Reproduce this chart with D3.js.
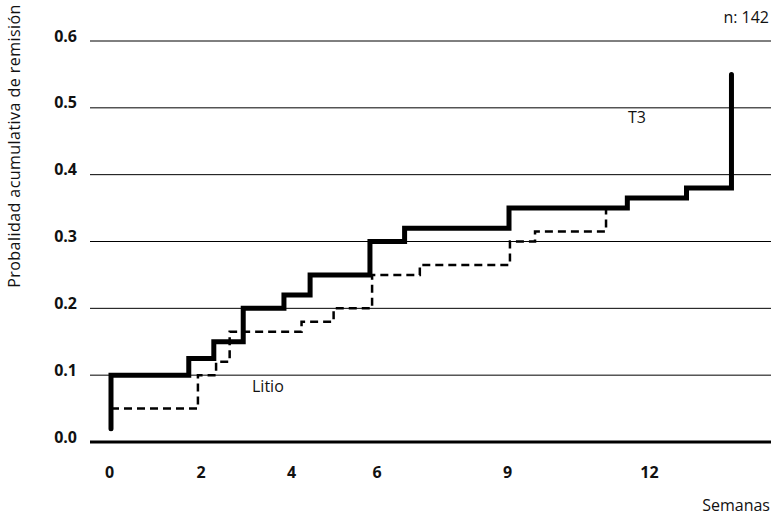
<!DOCTYPE html>
<html>
<head>
<meta charset="utf-8">
<script src="https://cdn.jsdelivr.net/npm/d3@7"></script>
<style>
  body { margin: 0; background: #fff; }
  svg text { font-family: "Open Sans", "Noto Sans", sans-serif; fill: #111; }
  .tick-label { font-weight: bold; font-size: 16px; }
  .note { font-size: 16px; }
</style>
</head>
<body>
<div id="chart"></div>
<script>
// weeks where each step starts, and the cumulative probability held from there
var t3Weeks   = [0, 0, 1.7, 2.25, 2.9, 3.8, 4.4, 5.8, 6.6, 9, 11.5, 12.75, 13.7, 13.7];
var t3Values  = [0.02, 0.1, 0.125, 0.15, 0.2, 0.22, 0.25, 0.3, 0.32, 0.35, 0.365, 0.38, 0.38, 0.55];

var litioWeeks  = [0, 1.9, 2.3, 2.6, 4.2, 4.95, 5.85, 6.95, 9.02, 9.55, 11.05, 11.05];
var litioValues = [0.05, 0.1, 0.12, 0.165, 0.18, 0.2, 0.25, 0.265, 0.3, 0.315, 0.315, 0.35];

var xTicks = [0, 2, 4, 6, 9, 12];
var yTicks = [0, 0.1, 0.2, 0.3, 0.4, 0.5, 0.6];

var width = 776, height = 516;

var svg = d3.select('#chart').append('svg')
    .attr('width', width)
    .attr('height', height);

// the week axis in the original is not evenly spaced, so use a piecewise scale
var x = d3.scaleLinear().domain(xTicks).range([111, 202.5, 293, 378.5, 509, 651]);
var y = d3.scaleLinear().domain([0, 0.6]).range([442, 41]);

var gridLeft = 90, gridRight = 771;

// horizontal grid lines
svg.selectAll('.grid')
    .data(yTicks).enter().append('line')
    .attr('x1', gridLeft)
    .attr('x2', gridRight)
    .attr('y1', function(d) { return y(d); })
    .attr('y2', function(d) { return y(d); })
    .attr('stroke', '#000')
    .attr('stroke-width', function(d) { return d === 0 ? 3 : 1; });

// y tick labels
svg.selectAll('.ylab')
    .data(yTicks).enter().append('text')
    .attr('class', 'tick-label')
    .attr('x', 77)
    .attr('y', function(d) { return y(d) + 0.5; })
    .attr('text-anchor', 'end')
    .text(function(d) { return d3.format('.1f')(d); });

// x tick labels
svg.selectAll('.xlab')
    .data(xTicks).enter().append('text')
    .attr('class', 'tick-label')
    .attr('x', function(d) { return x(d) - 1.5; })
    .attr('y', 478)
    .attr('text-anchor', 'middle')
    .text(function(d) { return d; });

var line = d3.line()
    .x(function(d) { return x(d[0]); })
    .y(function(d) { return y(d[1]); })
    .curve(d3.curveStepAfter);

svg.append('path')
    .datum(d3.zip(litioWeeks, litioValues))
    .attr('d', line)
    .attr('fill', 'none')
    .attr('stroke', '#000')
    .attr('stroke-width', 2.5)
    .attr('stroke-dasharray', '8,5');

svg.append('path')
    .datum(d3.zip(t3Weeks, t3Values))
    .attr('d', line)
    .attr('fill', 'none')
    .attr('stroke', '#000')
    .attr('stroke-width', 5)
    .attr('stroke-linecap', 'round');

// series labels and notes
svg.append('text').attr('class', 'note').attr('x', 628).attr('y', 122.5).text('T3');
svg.append('text').attr('class', 'note').attr('x', 252).attr('y', 392).text('Litio');
svg.append('text').attr('class', 'note').attr('x', 769).attr('y', 23)
    .attr('text-anchor', 'end').text('n: 142');
svg.append('text').attr('class', 'note').attr('x', 770).attr('y', 511)
    .attr('text-anchor', 'end').text('Semanas');
svg.append('text').attr('class', 'note')
    .attr('transform', 'translate(20,146) rotate(-90)')
    .attr('text-anchor', 'middle')
    .style('letter-spacing', '0.45px')
    .text('Probalidad acumulativa de remisión');
</script>
</body>
</html>
